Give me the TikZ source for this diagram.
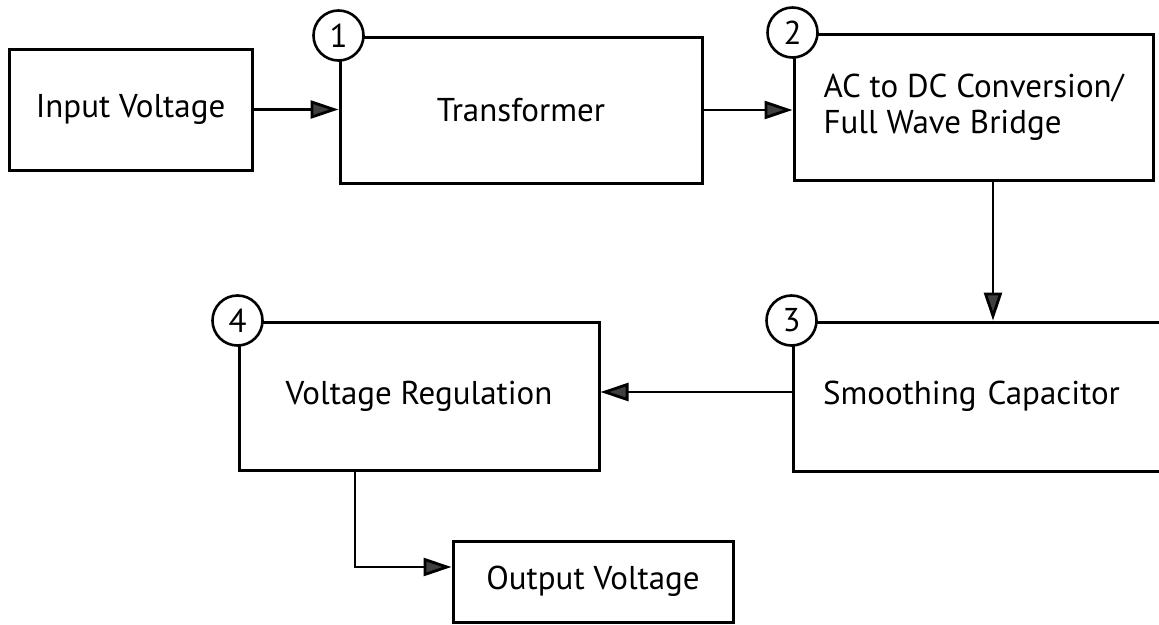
\documentclass[tikz,border=0pt]{standalone}
\usepackage{fontspec}
\setmainfont{PT Sans}
\usetikzlibrary{arrows.meta}
\begin{document}
\begin{tikzpicture}[x=1pt,y=-1pt,
  box/.style={draw=black, line width=3pt, fill=white, inner sep=0pt,
    font=\fontsize{33}{36}\selectfont},
  num/.style={circle, draw=black, line width=2.6pt, fill=white,
    minimum size=50pt, inner sep=0pt, font=\fontsize{33}{36}\selectfont},
  arr/.style={line width=2.8pt, -{Triangle[length=28pt,width=18pt,fill=black!75]}}]
\useasboundingbox (0,0) rectangle (1159,624);
\clip (0,0) rectangle (1159,624);
\node[box, minimum width=243pt, minimum height=121pt] (in) at (130.5,109.5) {Input Voltage};
\node[box, minimum width=362pt, minimum height=146pt] (tr) at (521,110) {Transformer};
\node[box, minimum width=359pt, minimum height=146pt, align=left] (ac) at (973.5,107) {AC to DC Conversion/\\Full Wave Bridge};
\node[box, minimum width=420pt, minimum height=149pt, text width=360pt, align=left] (sm) at (1003,396.5) {Smoothing Capacitor};
\node[box, minimum width=360pt, minimum height=148pt] (vr) at (419,396) {Voltage Regulation};
\node[box, minimum width=280pt, minimum height=81pt] (out) at (593,581.5) {Output Voltage};
\node[num] (n1) at (tr.north west) {1};
\node[num] (n2) at (ac.north west) {2};
\node[num] (n3) at (sm.north west) {3};
\node[num] (n4) at (vr.north west) {4};
\coordinate (d) at (993,0);
\coordinate (v) at (355,0);
\draw[arr] (in.east) -- (in.east -| tr.west);
\draw[arr] (tr.east) -- (tr.east -| ac.west);
\draw[arr] (ac.south -| d) -- (sm.north -| d);
\draw[arr] ([yshift=4.5pt]sm.west) -- ([yshift=4.5pt]sm.west -| vr.east);
\draw[arr] (vr.south -| v) |- ([yshift=14.5pt]out.west);
\end{tikzpicture}
\end{document}
